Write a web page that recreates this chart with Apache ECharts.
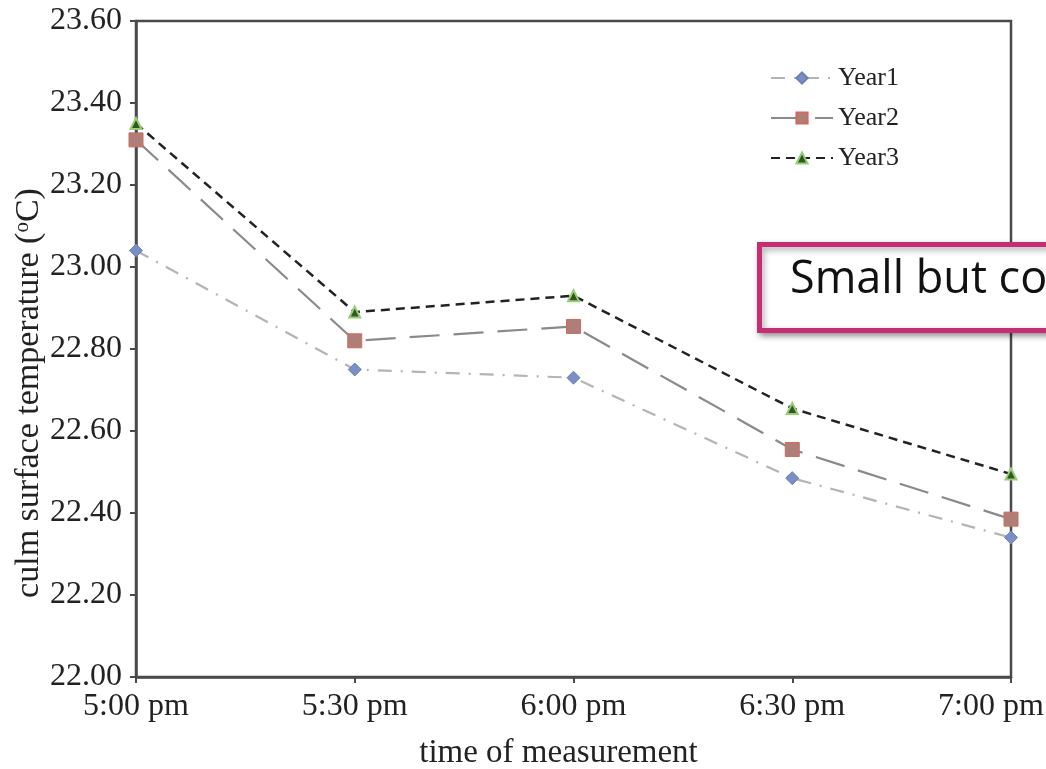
<!DOCTYPE html>
<html>
<head>
<meta charset="utf-8">
<script src="https://cdn.jsdelivr.net/npm/echarts@6/dist/echarts.min.js"></script>
<style>
html,body{margin:0;padding:0;background:#fff;}
#chart{width:1046px;height:769px;}
</style>
</head>
<body>
<div id="chart"></div>
<script>
var categories = ['5:00 pm', '5:30 pm', '6:00 pm', '6:30 pm', '7:00 pm'];
var year1 = [23.04, 22.75, 22.73, 22.485, 22.34];
var year2 = [23.31, 22.82, 22.855, 22.555, 22.385];
var year3 = [23.35, 22.89, 22.93, 22.655, 22.495];
var seriesNames = ['Year1', 'Year2', 'Year3'];
var yMin = 22.0, yMax = 23.6, yStep = 0.2;
var calloutText = 'Small but co';

var serif = 'Liberation Serif';
var chart = echarts.init(document.getElementById('chart'), null, {renderer: 'canvas'});
var option = {
  backgroundColor: '#ffffff',
  animation: false,
  grid: {
    left: 136, top: 21, right: 35, bottom: 92,
    outerBoundsMode: 'none', containLabel: false,
    show: true, borderColor: '#4a4a4a', borderWidth: 2.5, backgroundColor: 'transparent'
  },
  legend: {
    orient: 'vertical',
    left: 765, top: 60,
    itemWidth: 62, itemHeight: 14, itemGap: 14,
    textStyle: {fontFamily: serif, fontSize: 26, color: '#222', lineHeight: 26},
    data: seriesNames
  },
  xAxis: {
    type: 'category',
    data: categories,
    boundaryGap: false,
    axisLine: {lineStyle: {color: '#4a4a4a', width: 2.5}},
    axisTick: {show: true, inside: false, interval: 0, length: 6, lineStyle: {color: '#4a4a4a', width: 2}},
    axisLabel: {
      interval: 0, hideOverlap: false,
      fontFamily: serif, fontSize: 32, color: '#222', margin: 14,
      formatter: function (v, i) { return i === categories.length - 1 ? '{last|' + v + '}' : v; },
      rich: {last: {fontFamily: serif, fontSize: 32, color: '#222', padding: [0, 40, 0, 0]}}
    },
    splitLine: {show: false},
    name: 'time of measurement',
    nameLocation: 'middle',
    nameGap: 60,
    nameMoveOverlap: false,
    nameTextStyle: {fontFamily: serif, fontSize: 33, color: '#222', padding: [0, 30, 0, 0]}
  },
  yAxis: {
    type: 'value',
    min: yMin, max: yMax, interval: yStep,
    axisLine: {show: true, lineStyle: {color: '#4a4a4a', width: 2.5}},
    axisTick: {show: true, length: 6, lineStyle: {color: '#4a4a4a', width: 2}},
    axisLabel: {fontFamily: serif, fontSize: 32, color: '#222', margin: 14,
      formatter: function (v) { return v.toFixed(2); }},
    splitLine: {show: false},
    name: 'culm surface temperature ({sup|o}C)',
    nameLocation: 'middle',
    nameGap: 90,
    nameRotate: 90,
    nameMoveOverlap: false,
    nameTextStyle: {fontFamily: serif, fontSize: 34, color: '#222', padding: [0, 88, 0, 0],
      rich: {sup: {fontFamily: serif, fontSize: 21, color: '#222', verticalAlign: 'top', padding: [0, 0, 10, 0]}}}
  },
  series: [
    {
      name: seriesNames[0], type: 'line', data: year1,
      symbol: 'diamond', symbolSize: 13,
      itemStyle: {color: '#7b8fc4', borderColor: '#6a7fb8', borderWidth: 1},
      lineStyle: {color: '#b4b4b4', width: 2.2, type: [14, 9, 2, 9]}
    },
    {
      name: seriesNames[1], type: 'line', data: year2,
      symbol: 'rect', symbolSize: 14,
      itemStyle: {color: '#ae7e77', borderColor: '#d06a60', borderWidth: 1},
      lineStyle: {color: '#8a8a8a', width: 2.2, type: [30, 14]}
    },
    {
      name: seriesNames[2], type: 'line', data: year3,
      symbol: 'triangle', symbolSize: 11,
      itemStyle: {color: '#2f5a1e', borderColor: '#9acb7a', borderWidth: 2},
      lineStyle: {color: '#222222', width: 2.5, type: [9, 6]}
    }
  ],
  graphic: [
    {
      type: 'rect',
      left: 757, top: 242, z: 100,
      shape: {width: 300, height: 86},
      style: {fill: '#ffffff', stroke: '#c62d72', lineWidth: 5,
        shadowBlur: 6, shadowOffsetX: 2, shadowOffsetY: 3, shadowColor: 'rgba(0,0,0,0.35)'}
    },
    {
      type: 'text',
      left: 790, top: 258, z: 101,
      style: {text: calloutText, font: '45px "Open Sans"', fill: '#111'}
    }
  ]
};
chart.setOption(option);
</script>
</body>
</html>
